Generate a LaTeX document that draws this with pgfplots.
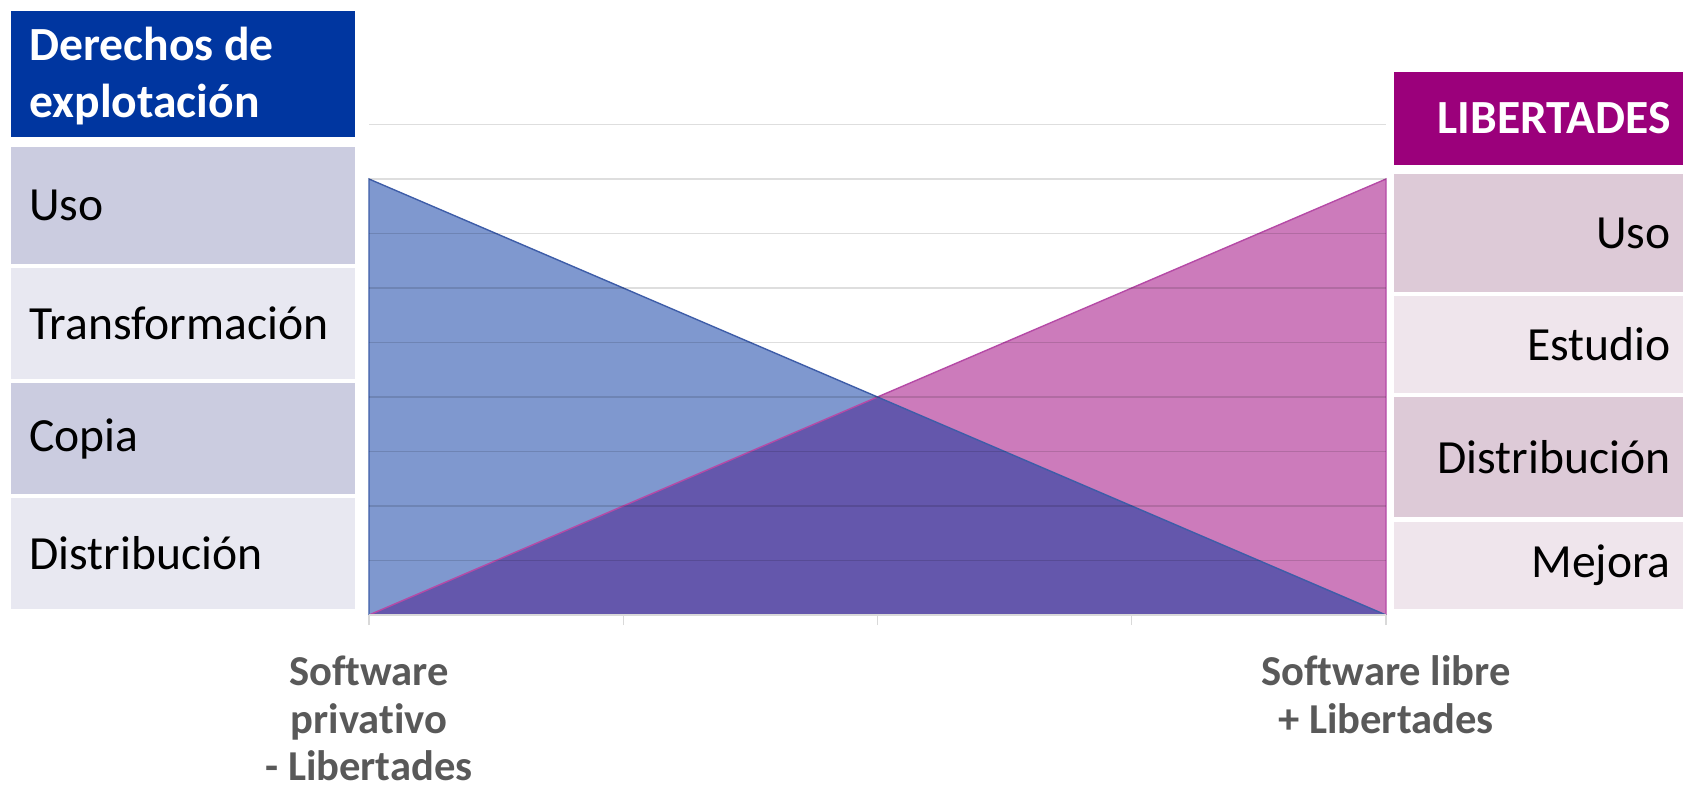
\documentclass[border=0pt]{standalone}
\usepackage{pgfplots}
\pgfplotsset{compat=1.18}
\usepackage{fontspec}
\setmainfont{Carlito}[Ligatures=NoCommon]
\definecolor{hdrblue}{HTML}{0036A0}
\definecolor{ldark}{HTML}{CBCCE0}
\definecolor{llight}{HTML}{E8E8F1}
\definecolor{hdrmag}{HTML}{9B007B}
\definecolor{rdark}{HTML}{DDCAD7}
\definecolor{rlight}{HTML}{EFE5EC}
\definecolor{bluefill}{HTML}{7F98CF}
\definecolor{pinkfill}{HTML}{CC7BBB}
\definecolor{overlap}{HTML}{6457AC}
\definecolor{blueline}{HTML}{3E5DA8}
\definecolor{pinkline}{HTML}{B54AA6}
\definecolor{textgray}{HTML}{595959}
\begin{document}
\begin{tikzpicture}[x=0.5pt,y=-0.5pt]
\useasboundingbox (0,0) rectangle (1683,791);
% left table
\fill[hdrblue] (10.7,10.7) rectangle (355,137.4);
\node[anchor=west, align=left, text=white, inner sep=0pt, font=\fontsize{23.8}{28.8}\selectfont\bfseries] at (29,76) {Derechos de\\explotación};
\fill[ldark] (10.7,147) rectangle (355,264);
\fill[llight] (10.7,268) rectangle (355,379);
\fill[ldark] (10.7,383) rectangle (355,494);
\fill[llight] (10.7,498) rectangle (355,609);
\begin{scope}[every node/.style={anchor=west, inner sep=0pt, font=\fontsize{23.8}{28}\selectfont}]
\node at (29,205.5) {Uso};
\node at (29,323.5) {Transformación};
\node at (29,438.5) {Copia};
\node at (29,553.5) {Distribución};
\end{scope}
% right table
\fill[hdrmag] (1394,72) rectangle (1683,165);
\node[anchor=east, text=white, inner sep=0pt, font=\fontsize{23.8}{28}\selectfont\bfseries] at (1671,118.5) {LIBERTADES};
\fill[rdark] (1394,174) rectangle (1683,292);
\fill[rlight] (1394,296) rectangle (1683,393);
\fill[rdark] (1394,397) rectangle (1683,517);
\fill[rlight] (1394,522) rectangle (1683,609);
\begin{scope}[every node/.style={anchor=east, inner sep=0pt, font=\fontsize{23.8}{28}\selectfont}]
\node at (1671,233) {Uso};
\node at (1671,344.5) {Estudio};
\node at (1671,457) {Distribución};
\node at (1671,565.5) {Mejora};
\end{scope}
\begin{axis}[
  at={(184.5pt,-307.5pt)}, anchor=origin,
  scale only axis, width=508.5pt, height=245.25pt,
  xmin=0, xmax=4, ymin=0, ymax=9,
  axis on top,
  axis x line*=bottom, axis y line*=left,
  x axis line style={draw=black!15, line width=0.7pt, -},
  y axis line style={draw=none},
  xtick={0,1,2,3,4},
  xticklabels={{Software\\privativo\\- Libertades},,,,{Software libre\\+ Libertades}},
  xtick align=outside,
  major x tick style={draw=black!15, line width=0.7pt},
  major tick length=5pt,
  ytick={1,2,3,4,5,6,7,8,9}, yticklabels={},
  major y tick style={draw=none},
  ymajorgrids,
  major grid style={draw=black, draw opacity=0.13, line width=0.7pt},
  xticklabel style={align=center, text=textgray, font=\fontsize{21.3}{23.8}\selectfont\bfseries, anchor=north, yshift=-12pt},
  clip=false,
]
\addplot[fill=pinkfill, draw=none] coordinates {(0,0) (4,8)} \closedcycle;
\addplot[fill=bluefill, draw=none] coordinates {(0,8) (4,0)} \closedcycle;
\addplot[fill=overlap, draw=none] coordinates {(0,0) (2,4) (4,0)} \closedcycle;
\addplot[pinkline, line width=0.7pt] coordinates {(0,0) (4,8) (4,0)};
\addplot[blueline, line width=0.7pt] coordinates {(0,0) (0,8) (4,0)};
\end{axis}
\end{tikzpicture}
\end{document}
